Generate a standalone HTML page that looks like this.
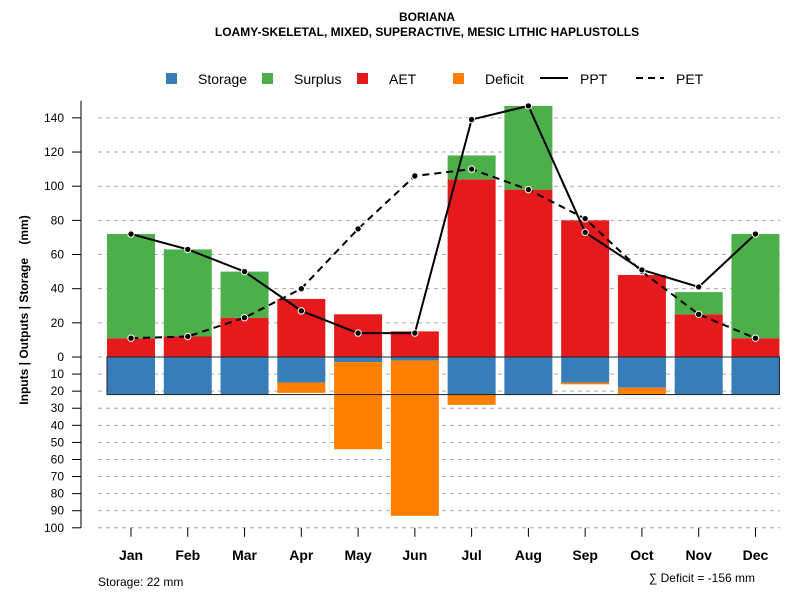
<!DOCTYPE html>
<html><head><meta charset="utf-8"><style>
body{margin:0;background:#fff;}
svg text{font-family:"Liberation Sans",sans-serif;}
</style></head><body>
<svg id="c" width="800" height="600" xmlns="http://www.w3.org/2000/svg">
<text x="427" y="21" text-anchor="middle" font-size="12" font-weight="bold">BORIANA</text>
<text x="427" y="36" text-anchor="middle" font-size="12" font-weight="bold">LOAMY-SKELETAL, MIXED, SUPERACTIVE, MESIC LITHIC HAPLUSTOLLS</text>
<g font-size="14">
<rect x="166" y="73" width="11" height="11" fill="#377eb8"/>
<text x="198" y="84">Storage</text>
<rect x="262" y="73" width="11" height="11" fill="#4daf4a"/>
<text x="294" y="84">Surplus</text>
<rect x="357" y="73" width="11" height="11" fill="#e41a1c"/>
<text x="389" y="84">AET</text>
<rect x="453" y="73" width="11" height="11" fill="#ff7f00"/>
<text x="485" y="84">Deficit</text>
<line x1="540" y1="78" x2="568" y2="78" stroke="#000" stroke-width="2"/>
<text x="580" y="84">PPT</text>
<line x1="636" y1="78" x2="664" y2="78" stroke="#000" stroke-width="2" stroke-dasharray="7,5"/>
<text x="676" y="84">PET</text>
</g>
<text transform="translate(28,310) rotate(-90)" text-anchor="middle" font-size="12" font-weight="bold">Inputs | Outputs | Storage&#160;&#160;&#160;&#160;(mm)</text>
<text x="98" y="586" font-size="12">Storage: 22 mm</text>
<text x="755" y="582" text-anchor="end" font-size="12">∑ Deficit = -156 mm</text>
<g id="g"></g>
</svg>
<script>
const months=["Jan","Feb","Mar","Apr","May","Jun","Jul","Aug","Sep","Oct","Nov","Dec"];
const ppt=[72,63,50,27,14,14,139,147,73,51,41,72];
const pet=[11,12,23,40,75,106,110,98,81,50,25,11];
const aet=[11,12,23,34,25,15,104,98,80,48,25,11];
const surplus=[61,51,27,0,0,0,14,49,0,0,13,61];
const storage=[22,22,22,15,3,2,22,22,15,18,22,22];
const deficit=[0,0,0,6,51,91,6,0,1,4,0,0];
const posTicks=[0,20,40,60,80,100,120,140];
const negTicks=[10,20,30,40,50,60,70,80,90,100];
const capacity=22;
const NS="http://www.w3.org/2000/svg";
const g=document.getElementById('g');
const y0=357,k=1.708;
const yp=v=>y0-v*k, yn=v=>y0+v*k;
const x=i=>131+i*56.77;
const bw=48;
function mk(t,a){const e=document.createElementNS(NS,t);for(const n in a)e.setAttribute(n,a[n]);g.appendChild(e);return e;}
let ax=mk('line',{x1:81,y1:yp(150),x2:81,y2:yn(100),stroke:'#555','stroke-width':1.5});


posTicks.forEach(v=>{
 const yy=yp(v);
 let gl=mk('line',{x1:98,x2:780,y1:yy,y2:yy,stroke:'#aaa','stroke-dasharray':'4,4'});
 
 
 mk('line',{x1:72,x2:81,y1:yy,y2:yy,stroke:'#000'});
 let t=mk('text',{x:64,y:yy+4,'text-anchor':'end','font-size':12});t.textContent=v;
 
 
});
negTicks.forEach(v=>{
 const yy=yn(v);
 let gl=mk('line',{x1:98,x2:780,y1:yy,y2:yy,stroke:'#aaa','stroke-dasharray':'4,4'});
 
 
 mk('line',{x1:72,x2:81,y1:yy,y2:yy,stroke:'#000'});
 let t=mk('text',{x:64,y:yy+4,'text-anchor':'end','font-size':12});t.textContent=v;
 
 
});
months.forEach((m,i)=>{
 const cx=x(i),l=cx-bw/2;
 let r;
 r=mk('rect',{x:l,y:yp(aet[i]),width:bw,height:aet[i]*k,fill:'#e41a1c'});
 
 
 r=mk('rect',{x:l,y:yp(aet[i]+surplus[i]),width:bw,height:surplus[i]*k,fill:'#4daf4a'});
 
 
 r=mk('rect',{x:l,y:y0,width:bw,height:storage[i]*k,fill:'#377eb8'});
 
 
 r=mk('rect',{x:l,y:yn(storage[i]),width:bw,height:deficit[i]*k,fill:'#ff7f00'});
 
 
 mk('line',{x1:cx,x2:cx,y1:yn(100),y2:yn(100)+9,stroke:'#000'});
 let t=mk('text',{x:cx,y:560,'text-anchor':'middle','font-size':14,'font-weight':'bold'});t.textContent=m;
 
 
});
let cap=mk('rect',{x:x(0)-bw/2,y:y0,width:x(11)+bw/2-(x(0)-bw/2),height:capacity*k,fill:'none',stroke:'#222','stroke-width':1});


function line(arr,dash,name){
 let p=mk('polyline',{points:arr.map((v,i)=>x(i)+','+yp(v)).join(' '),fill:'none',stroke:'#000','stroke-width':2,'stroke-dasharray':dash});
 
 
 arr.forEach((v,i)=>{
  let c=mk('circle',{cx:x(i),cy:yp(v),r:3.2,fill:'#000',stroke:'#fff','stroke-width':1});
  
  
 });
}
line(pet,'7,5','pet');
line(ppt,'none','ppt');
</script>
</body></html>
